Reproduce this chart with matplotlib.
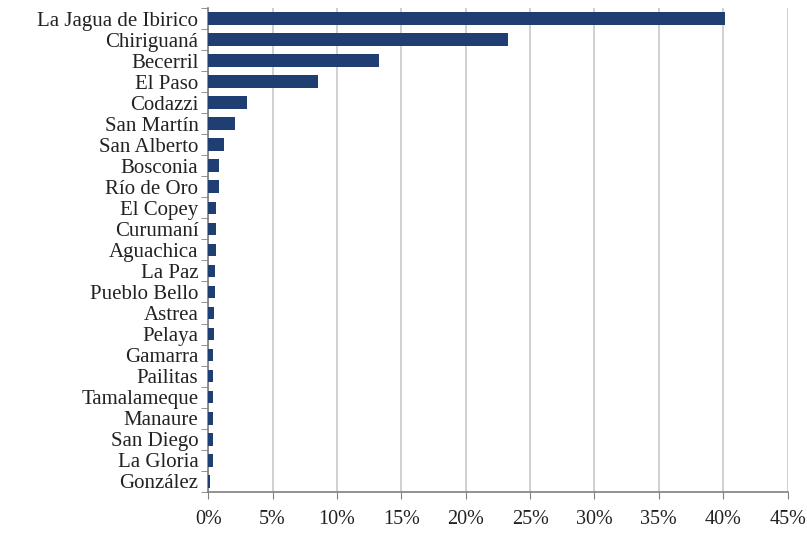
import matplotlib
matplotlib.use("Agg")
import matplotlib.pyplot as plt
from matplotlib.ticker import FuncFormatter, MultipleLocator, FixedLocator
import numpy as np

plt.rcParams['font.family'] = ['Liberation Serif', 'DejaVu Serif']

municipios = ['La Jagua de Ibirico', 'Chiriguaná', 'Becerril', 'El Paso', 'Codazzi',
              'San Martín', 'San Alberto', 'Bosconia', 'Río de Oro', 'El Copey',
              'Curumaní', 'Aguachica', 'La Paz', 'Pueblo Bello', 'Astrea', 'Pelaya',
              'Gamarra', 'Pailitas', 'Tamalameque', 'Manaure', 'San Diego',
              'La Gloria', 'González']
porcentaje = [40.1, 23.3, 13.3, 8.5, 3.0, 2.1, 1.2, 0.85, 0.85, 0.6,
              0.6, 0.6, 0.55, 0.5, 0.45, 0.45, 0.4, 0.35, 0.35, 0.35, 0.35,
              0.35, 0.15]

fig = plt.figure(figsize=(8.07, 5.34), dpi=100)
ax = fig.add_axes([0.258, 0.079, 0.718, 0.906])

y = np.arange(len(municipios))
ax.barh(y, porcentaje, height=0.6, color='#1f3f73', zorder=3)

ax.set_ylim(len(municipios) - 0.5, -0.5)
ax.set_xlim(0, 45)
ax.xaxis.set_major_locator(MultipleLocator(5))
ax.xaxis.set_major_formatter(FuncFormatter(lambda v, p: '{:.0f}%'.format(v)))
ax.grid(axis='x', color='#c8c8c8', linewidth=1.2, zorder=0)

ax.set_yticks(y)
ax.set_yticklabels(municipios)
ax.yaxis.set_minor_locator(FixedLocator(np.arange(-0.5, len(municipios), 1)))
ax.tick_params(axis='y', which='major', length=0, pad=7, labelsize=15)
ax.tick_params(axis='y', which='minor', length=5, color='#808080')
ax.tick_params(axis='x', length=5, color='#808080', labelsize=14.5, pad=8)
for lbl in ax.get_xticklabels() + ax.get_yticklabels():
    lbl.set_color('#222222')

for s in ['top', 'right']:
    ax.spines[s].set_visible(False)
for s in ['left', 'bottom']:
    ax.spines[s].set_color('#808080')
    ax.spines[s].set_linewidth(1.2)

fig.savefig('out.png', dpi=100)
